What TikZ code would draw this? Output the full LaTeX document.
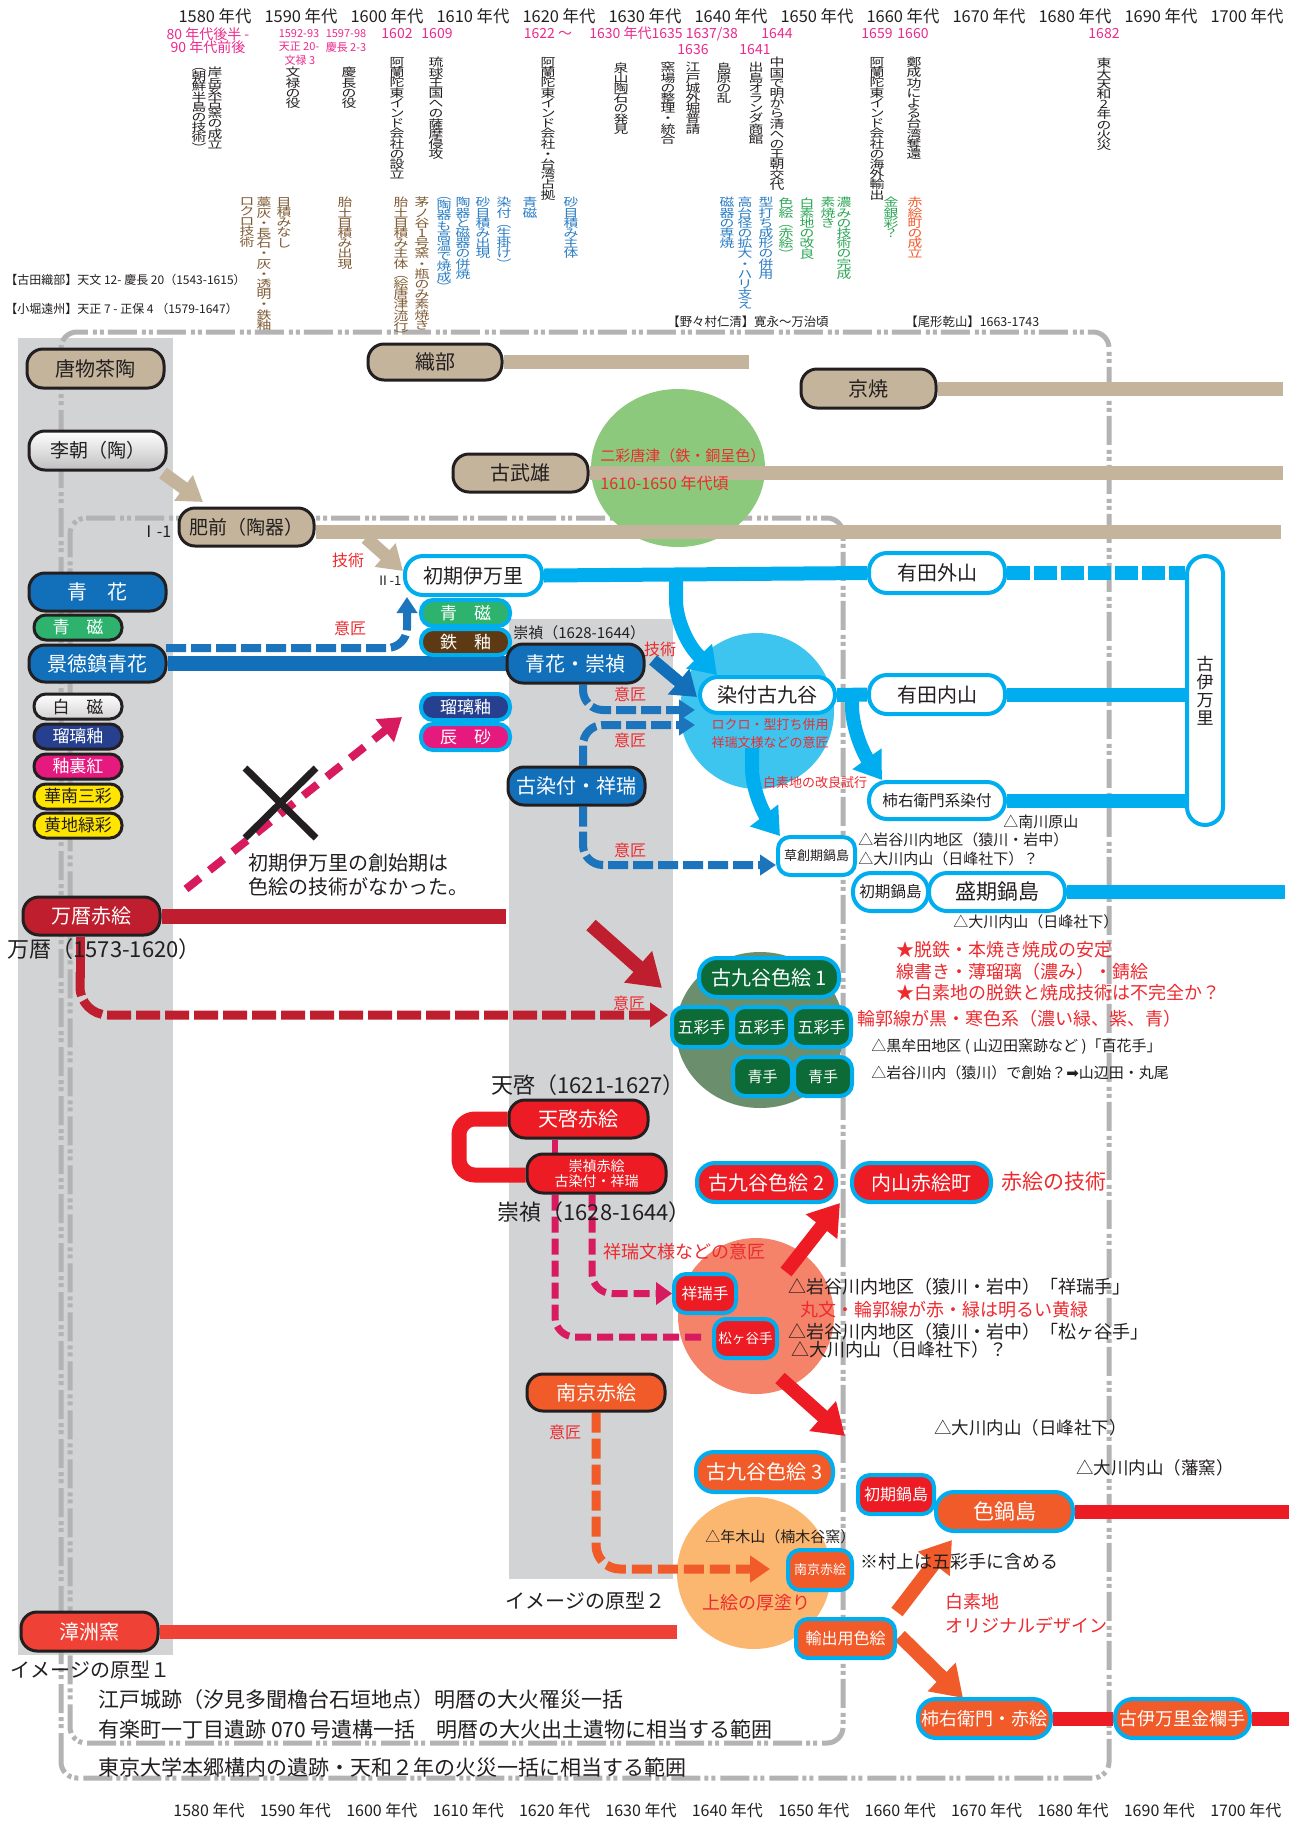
\documentclass[tikz,border=0pt]{standalone}
\usepackage{fontspec}
\usepackage{graphicx}
\setmainfont{Noto Sans CJK JP}
\newfontfamily\dv{DejaVu Sans}
\usetikzlibrary{arrows.meta}
\pgfdeclarelayer{back}
\pgfdeclarelayer{mid}
\pgfsetlayers{back,mid,main}
\definecolor{ink}{HTML}{231F20}
\definecolor{beige}{HTML}{C4B49B}
\definecolor{band}{HTML}{D1D3D4}
\definecolor{frame}{HTML}{B3B3B3}
\definecolor{cyanL}{HTML}{00AEEF}
\definecolor{blueN}{HTML}{1270BA}
\definecolor{blueD}{HTML}{1C75BC}
\definecolor{navy}{HTML}{26408F}
\definecolor{mag}{HTML}{E6197E}
\definecolor{dred}{HTML}{BE1E2D}
\definecolor{redN}{HTML}{ED1C24}
\definecolor{orng}{HTML}{F15A29}
\definecolor{dgreen}{HTML}{0D6B37}
\definecolor{gnode}{HTML}{2DB36D}
\definecolor{brownN}{HTML}{5E3A14}
\definecolor{yel}{HTML}{FFE500}
\definecolor{ltgreen}{HTML}{8DC97C}
\definecolor{ltblue}{HTML}{3DC5F0}
\definecolor{ellgreen}{HTML}{6B8F6C}
\definecolor{salmon}{HTML}{F4836A}
\definecolor{ltorange}{HTML}{FBB76F}
\definecolor{txred}{HTML}{EE2A2F}
\definecolor{pinky}{HTML}{EC2A8C}
\definecolor{txbrown}{HTML}{7F5B34}
\definecolor{txblue}{HTML}{2A7DC4}
\definecolor{txgreen}{HTML}{2AA654}
\definecolor{pinkD}{HTML}{D81B5F}
\definecolor{zhang}{HTML}{EF4136}
\newcommand\fz[1]{\fontsize{#1}{#1}\selectfont}
\def\vtend{\relax}
\def\vtloop#1{\ifx#1\vtend\else\hbox to 1.2em{\hss#1\hss}\expandafter\vtloop\fi}
\def\vtloopS#1{\ifx#1\vtend\else\hbox to 1.5em{\hss\scalebox{1.3}[1]{#1}\hss}\expandafter\vtloopS\fi}
\newcommand\vtx[2]{\vbox{\baselineskip=#1\lineskiplimit=-100pt\lineskip=0pt\vtloop#2\vtend}}
\newcommand\vtxS[2]{\vbox{\baselineskip=#1\lineskiplimit=-100pt\lineskip=0pt\vtloopS#2\vtend}}
\newcounter{tn}
\newcommand\tx[6][west]{\stepcounter{tn}\edef\tnm{t\arabic{tn}}\node[anchor=#1,inner sep=0pt,text=#4,font=\fz{#5}] (\tnm) at (#2,#3) {#6};}
\newcommand\vt[4]{\stepcounter{tn}\edef\tnm{t\arabic{tn}}\node[anchor=north,inner sep=0pt,text=#3,font=\fz{5.7}] (\tnm) at (#1,#2) {\vtxS{5.1pt}{#4}};}
\newcommand\bx[7]{\node[#6,minimum width={(#4-(#2))*0.5pt},minimum height={(#5-(#3))*0.5pt}] (#1) at ({((#2)+(#4))/2},{((#3)+(#5))/2}) {#7};}
\tikzset{
 nb/.style={inner sep=0pt, align=center},
 bn/.style={nb, fill=beige, draw=ink, line width=1.5pt, rounded corners=8pt, text=ink, font=\fz{10}},
 silv/.style={nb, draw=ink, line width=1.5pt, rounded corners=8pt, top color=white, bottom color=gray!50, text=ink, font=\fz{9.5}},
 dk/.style={nb, draw=ink, line width=1.5pt, rounded corners=8pt, text=white, font=\fz{10}},
 dks/.style={nb, draw=ink, line width=1.5pt, rounded corners=6pt, text=white, font=\fz{8.5}},
 cy/.style={nb, draw=cyanL, line width=2pt, rounded corners=9pt, font=\fz{10}},
 cys/.style={nb, draw=cyanL, line width=2pt, rounded corners=6pt, font=\fz{8.5}},
 frm/.style={draw=frame, line width=2.5pt, dash pattern=on 14.5pt off 2.5pt on 2pt off 1.5pt on 2pt off 2pt, rounded corners=8pt},
 barw/.style={line width=7pt},
 bdash/.style={draw=blueD, line width=4pt, dash pattern=on 10pt off 2.5pt, rounded corners=10pt, -{Triangle[width=10pt,length=8pt]}},
 blk/.style={line width=7pt, -{Triangle[width=19pt,length=15pt]}},
}
\begin{document}
\begin{tikzpicture}[x=0.5pt,y=-0.5pt]
\useasboundingbox (0,0) rectangle (1303,1821);
\begin{pgfonlayer}{back}
\fill[white] (0,0) rectangle (1303,1821);
\fill[band] (18,338) rectangle (173,1655);
\fill[band] (509,619) rectangle (673,1579);
\draw[frm] (61,1778) -- (61,332) -- (1109,332) -- (1109,1778) -- cycle;
\draw[frm] (70,518) -- (843,518) -- (843,1743) -- (70,1743) -- cycle;
\end{pgfonlayer}

% ---------- header ----------
\foreach \k in {0,...,12}{
  \pgfmathtruncatemacro\yr{1580+10*\k}
  \node[inner sep=0pt,text=ink,font=\fz{8.2}] (top\k) at ({215+86*\k},16) {\yr\ 年代};
  \node[inner sep=0pt,text=ink,font=\fz{8}] (bot\k) at ({209+86.4*\k},1810) {\yr\ 年代};
}
\tx[center]{208}{34}{pinky}{7}{80 年代後半 -}
\tx[center]{208}{47}{pinky}{7}{90 年代前後}
\tx[center]{299}{34}{pinky}{5.5}{1592-93}
\tx[center]{299}{47}{pinky}{5.5}{天正 20-}
\tx[center]{300}{60}{pinky}{5.5}{文禄 3}
\tx[center]{346}{34}{pinky}{5.5}{1597-98}
\tx[center]{346}{47}{pinky}{5.5}{慶長 2-3}
\tx[center]{397}{34}{pinky}{7}{1602}
\tx[center]{437}{34}{pinky}{7}{1609}
\tx[center]{548}{34}{pinky}{7}{1622 ～}
\tx{589}{34}{pinky}{7}{1630 年代1635 1637/38}
\tx[center]{777}{34}{pinky}{7}{1644}
\tx[center]{693}{50}{pinky}{7}{1636}
\tx[center]{755}{50}{pinky}{7}{1641}
\tx[center]{877}{34}{pinky}{7}{1659}
\tx[center]{913}{34}{pinky}{7}{1660}
\tx[center]{1104}{34}{pinky}{7}{1682}

\vt{215}{67}{ink}{岸岳系古窯の成立}
\vt{199}{68}{ink}{︵朝鮮半島の技術︶}
\vt{293}{67}{ink}{文禄の役}
\vt{349}{67}{ink}{慶長の役}
\vt{397}{57}{ink}{阿蘭陀東インド会社の設立}
\vt{436}{57}{ink}{琉球王国への薩摩侵攻}
\vt{548}{57}{ink}{阿蘭陀東インド会社・台湾占拠}
\vt{621}{62}{ink}{泉山陶石の発見}
\vt{668}{62}{ink}{窯場の整理・統合}
\vt{693}{62}{ink}{江戸城外堀普請}
\vt{724}{62}{ink}{島原の乱}
\vt{756}{62}{ink}{出島オランダ商館}
\vt{777}{57}{ink}{中国で明から清への王朝交代}
\vt{877}{57}{ink}{阿蘭陀東インド会社の海外輸出}
\vt{914}{57}{ink}{鄭成功による台湾奪還}
\vt{1104}{58}{ink}{東大天和2年の火災}

\vt{247}{197}{txbrown}{ロクロ技術}
\vt{264}{197}{txbrown}{藁灰・長石・灰・透明・鉄釉}
\vt{284}{197}{txbrown}{目積みなし}
\vt{345}{197}{txbrown}{胎土目積み出現}
\vt{401}{197}{txbrown}{胎土目積み主体︵絵唐津流行︶}
\vt{422}{197}{txbrown}{茅ノ谷1号窯・瓶のみ素焼き}
\vt{444}{197}{txblue}{︵陶器も高温で焼成︶}
\vt{463}{197}{txblue}{陶器と磁器の併焼}
\vt{483}{197}{txblue}{砂目積み出現}
\vt{504}{197}{txblue}{染付︵生掛け︶}
\vt{530}{197}{txblue}{青磁}
\vt{571}{197}{txblue}{砂目積み主体}
\vt{727}{197}{txblue}{磁器の専焼}
\vt{745}{197}{txblue}{高台径の拡大・ハリ支え}
\vt{766}{197}{txblue}{型打ち成形の併用}
\vt{786}{197}{txgreen}{色絵︵赤絵︶}
\vt{807}{197}{txgreen}{白素地の改良}
\vt{828}{197}{txgreen}{素焼き}
\vt{844}{197}{txgreen}{濃みの技術の完成}
\vt{891}{197}{txgreen}{金銀彩？}
\vt{915}{197}{orng}{赤絵町の成立}

\tx{5}{280}{ink}{6}{【古田織部】天文 12- 慶長 20（1543-1615）}
\tx{5}{309}{ink}{6}{【小堀遠州】天正 7 - 正保 4 （1579-1647）}
\tx{667}{322}{ink}{6.2}{【野々村仁清】寛永～万治頃}
\tx{905}{322}{ink}{6.2}{【尾形乾山】1663-1743}

% ---------- nodes ----------
\bx{karamono}{27}{349}{164}{388}{bn}{唐物茶陶}
\bx{richo}{29}{431}{166}{470}{silv}{李朝（陶）}
\bx{oribe}{368}{344}{502}{380}{bn}{織部}
\bx{kyo}{801}{369}{936}{408}{bn}{京焼}
\bx{takeo}{453}{454}{588}{492}{bn}{古武雄}
\bx{hizen}{179}{508}{314}{546}{bn,font=\fz{9.5}}{肥前（陶器）}
\bx{seika}{29}{573}{166}{611}{dk,fill=blueN}{青　花}
\bx{seijiL}{34}{615}{122}{640}{dks,fill=gnode}{青　磁}
\bx{keitoku}{29}{645}{166}{682}{dk,fill=blueN}{景徳鎮青花}
\bx{hakuji}{34}{694}{122}{719}{dks,top color=white,bottom color=gray!35,text=ink}{白　磁}
\bx{ruriL}{34}{724}{122}{749}{dks,fill=navy}{瑠璃釉}
\bx{yuri}{34}{754}{122}{779}{dks,fill=mag}{釉裏紅}
\bx{kanan}{34}{784}{122}{809}{dks,fill=yel,text=ink}{華南三彩}
\bx{kiji}{34}{813}{122}{838}{dks,fill=yel,text=ink}{黄地緑彩}
\bx{banreki}{23}{897}{160}{935}{dk,fill=dred}{万暦赤絵}
\bx{shoshu}{21}{1612}{158}{1651}{dk,fill=zhang}{漳洲窯}

\bx{shoki}{405}{556}{542}{595}{cy,fill=white,text=ink}{初期伊万里}
\bx{seijiC}{421}{600}{510}{626}{cys,fill=gnode,text=white}{青　磁}
\bx{tetsu}{421}{629}{510}{655}{cys,fill=brownN,text=white}{鉄　釉}
\bx{sukei}{507}{644}{644}{683}{dk,fill=blueN}{青花・崇禎}
\bx{ruriC}{421}{694}{510}{720}{cys,fill=navy,text=white}{瑠璃釉}
\bx{shinsha}{421}{724}{510}{750}{cys,fill=mag,text=white}{辰　砂}
\bx{kosome}{508}{767}{645}{805}{dk,fill=blueN}{古染付・祥瑞}
\bx{sometsuke}{700}{677}{835}{713}{cy,fill=white,text=ink}{染付古九谷}
\bx{soso}{778}{837}{855}{875}{cys,fill=white,text=ink,font=\fz{6.5}}{草創期鍋島}
\bx{sotoyama}{869}{553}{1005}{593}{cy,fill=white,text=ink}{有田外山}
\bx{uchiyama}{869}{675}{1005}{714}{cy,fill=white,text=ink}{有田内山}
\bx{kakiS}{869}{782}{1005}{819}{cy,fill=white,text=ink,font=\fz{7.8}}{柿右衛門系染付}
\bx{koimari}{1187}{556}{1223}{825}{cy,fill=white,text=ink,font=\fz{8.5}}{\vtx{9pt}{古伊万里}}
\bx{shokiN}{853}{873}{928}{911}{cy,fill=white,text=ink,font=\fz{7.8}}{初期鍋島}
\bx{seiki}{929}{873}{1065}{911}{cy,fill=white,text=ink,font=\fz{10.5}}{盛期鍋島}

\bx{iro1}{699}{958}{839}{997}{cy,fill=dgreen,text=white}{古九谷色絵 1}
\bx{gosai1}{672}{1007}{731}{1047}{cys,fill=dgreen,text=white,font=\fz{8}}{五彩手}
\bx{gosai2}{733}{1007}{790}{1047}{cys,fill=dgreen,text=white,font=\fz{8}}{五彩手}
\bx{gosai3}{792}{1007}{851}{1047}{cys,fill=dgreen,text=white,font=\fz{8}}{五彩手}
\bx{ao1}{733}{1057}{792}{1096}{cys,fill=dgreen,text=white,font=\fz{7.5}}{青手}
\bx{ao2}{794}{1057}{852}{1096}{cys,fill=dgreen,text=white,font=\fz{7.5}}{青手}

\bx{tenkei}{509}{1100}{648}{1138}{dk,fill=redN}{天啓赤絵}
\bx{sukeiaka}{527}{1154}{666}{1193}{dk,fill=redN,font={\fontsize{7}{7.6}\selectfont}}{崇禎赤絵\\古染付・祥瑞}
\bx{iro2}{697}{1163}{836}{1202}{cy,fill=redN,text=white}{古九谷色絵 2}
\bx{akaemachi}{852}{1163}{991}{1202}{cy,fill=redN,text=white}{内山赤絵町}
\bx{shonzui}{674}{1274}{736}{1313}{cys,fill=redN,text=white,font=\fz{7.8}}{祥瑞手}
\bx{matsu}{714}{1319}{777}{1358}{cys,fill=redN,text=white,font=\fz{6.8}}{松ヶ谷手}
\bx{nankin}{527}{1374}{665}{1411}{dk,fill=orng}{南京赤絵}
\bx{iro3}{696}{1452}{833}{1492}{cy,fill=orng,text=white}{古九谷色絵 3}
\bx{nankinS}{788}{1550}{852}{1590}{cys,fill=orng,text=white,font=\fz{6.5}}{南京赤絵}
\bx{yushutsu}{796}{1619}{895}{1658}{cys,fill=orng,text=white,font=\fz{8}}{輸出用色絵}
\bx{shokiR}{858}{1475}{934}{1514}{cys,fill=redN,text=white,font=\fz{8}}{初期鍋島}
\bx{ironabe}{936}{1492}{1073}{1531}{cy,fill=orng,text=white,font=\fz{10.5}}{色鍋島}
\bx{kakiA}{918}{1699}{1051}{1738}{cy,fill=orng,text=white,font=\fz{9}}{柿右衛門・赤絵}
\bx{kinran}{1115}{1699}{1250}{1738}{cy,fill=orng,text=white,font=\fz{9}}{古伊万里金襴手}

% ---------- texts ----------
\tx{600}{456}{txred}{7.5}{二彩唐津（鉄・銅呈色）}
\tx{600}{483}{txred}{8}{1610-1650 年代頃}
\tx[center]{348}{560}{txred}{8}{技術}
\tx[center]{156}{532}{ink}{8}{Ⅰ-1}
\tx[center]{389}{581}{ink}{6.5}{Ⅱ-1}
\tx[center]{350}{628}{txred}{8}{意匠}
\tx{513}{633}{ink}{7.5}{崇禎（1628-1644）}
\tx[center]{660}{649}{txred}{8}{技術}
\tx[center]{630}{694}{txred}{8}{意匠}
\tx[center]{630}{740}{txred}{8}{意匠}
\tx[center]{630}{850}{txred}{8}{意匠}
\tx[center]{770}{725}{txred}{6.5}{ロクロ・型打ち併用}
\tx[center]{770}{743}{txred}{6.5}{祥瑞文様などの意匠}
\tx[center]{815}{783}{txred}{6.5}{白素地の改良試行}
\tx{1003}{822}{ink}{7.5}{△南川原山}
\tx{858}{840}{ink}{7.5}{△岩谷川内地区（猿川・岩中）}
\tx{858}{859}{ink}{7.5}{△大川内山（日峰社下）？}
\tx{953}{922}{ink}{7.5}{△大川内山（日峰社下）}
\tx{248}{863}{ink}{10}{初期伊万里の創始期は}
\tx{248}{887}{ink}{10}{色絵の技術がなかった。}
\tx{7}{949}{ink}{11}{万暦（1573-1620）}
\tx[center]{629}{1003}{txred}{8}{意匠}
\tx{896}{950}{txred}{9}{★脱鉄・本焼き焼成の安定}
\tx{896}{972}{txred}{9}{線書き・薄瑠璃（濃み）・錆絵}
\tx{896}{993}{txred}{9}{★白素地の脱鉄と焼成技術は不完全か？}
\tx{857}{1019}{txred}{9}{輪郭線が黒・寒色系（濃い緑、紫、青）}
\tx{871}{1047}{ink}{7.5}{△黒牟田地区 ( 山辺田窯跡など )「百花手」}
\tx{871}{1073}{ink}{7.5}{△岩谷川内（猿川）で創始？{\dv ➡}山辺田・丸尾}
\tx{491}{1085}{ink}{11}{天啓（1621-1627）}
\tx{497}{1212}{ink}{11}{崇禎（1628-1644）}
\tx{603}{1252}{txred}{9}{祥瑞文様などの意匠}
\tx{1001}{1182}{txred}{10.5}{赤絵の技術}
\tx{788}{1287}{ink}{9}{△岩谷川内地区（猿川・岩中）「祥瑞手」}
\tx{800}{1310}{txred}{9}{丸文・輪郭線が赤・緑は明るい黄緑}
\tx{788}{1332}{ink}{9}{△岩谷川内地区（猿川・岩中）「松ヶ谷手」}
\tx{791}{1350}{ink}{9}{△大川内山（日峰社下）？}
\tx[center]{565}{1432}{txred}{8}{意匠}
\tx{934}{1428}{ink}{8.75}{△大川内山（日峰社下）}
\tx{1076}{1468}{ink}{8.75}{△大川内山（藩窯）}
\tx{705}{1537}{ink}{7.5}{△年木山（楠木谷窯）}
\tx{860}{1562}{ink}{9}{※村上は五彩手に含める}
\tx[center]{756}{1603}{txred}{9}{上絵の厚塗り}
\tx{505}{1601}{ink}{10}{イメージの原型２}
\tx{945}{1602}{txred}{9}{白素地}
\tx{945}{1625}{txred}{9}{オリジナルデザイン}
\tx{10}{1670}{ink}{10}{イメージの原型１}
\tx{98}{1699}{ink}{10.5}{江戸城跡（汐見多聞櫓台石垣地点）明暦の大火罹災一括}
\tx{98}{1730}{ink}{10.5}{有楽町一丁目遺跡 070 号遺構一括　明暦の大火出土遺物に相当する範囲}
\tx{98}{1767}{ink}{10.5}{東京大学本郷構内の遺跡・天和２年の火災一括に相当する範囲}

% ---------- mid layer: blobs, bars, arrows ----------
\begin{pgfonlayer}{mid}
\fill[ltgreen] (678,468) ellipse [x radius=43.5pt, y radius=39.5pt];
\fill[ltblue] (757,711) ellipse [x radius=38.5pt, y radius=39pt];
\fill[ellgreen] (760,1030) ellipse [x radius=42pt, y radius=39pt];
\fill[salmon] (756,1316) ellipse [x radius=39pt, y radius=39pt];
\fill[ltorange] (754,1573) ellipse [x radius=38.5pt, y radius=38pt];

\draw[beige, barw] (oribe.east) -- ++(245,0);
\draw[beige, barw] (kyo.east) -- ++(345,0);
\draw[beige, barw] (takeo.east) -- ++(693,0);
\draw[beige, barw] (hizen.east |- 0,532) -- (1281,532);
\draw[cyanL, barw] (shoki.east) -- (sotoyama.west);
\draw[cyanL, barw, dash pattern=on 11.5pt off 2pt] (sotoyama.east) -- (koimari.west |- sotoyama.east);
\draw[blueN, line width=7.5pt] (keitoku.east) -- (sukei.west);
\draw[cyanL, barw] (sometsuke.east) -- (uchiyama.west);
\draw[cyanL, barw] (uchiyama.east) -- (koimari.west |- uchiyama.east);
\draw[cyanL, barw] (kakiS.east) -- (koimari.west |- kakiS.east);
\draw[cyanL, barw] (seiki.east) -- ++(218,0);
\draw[dred, line width=7.5pt] (banreki.east) -- ++(344,0);
\draw[redN, barw] (ironabe.east) -- ++(214,0);
\draw[zhang, barw] (shoshu.east) -- ++(517,0);
\draw[redN, barw] (kakiA.east) -- (kinran.west);
\draw[redN, barw] (kinran.east) -- ++(37,0);

% beige arrows
\draw[beige, line width=6.5pt, -{Triangle[width=15pt,length=12pt]}] (163,473) -- (203,502);
\draw[beige, line width=6.5pt, -{Triangle[width=15pt,length=12pt]}] (366,538) -- (403,571);
% blue
\draw[bdash] (166,648) -| (407,597);
\draw[bdash] (sukei.south -| 583,0) |- (695,710);
\draw[bdash] (kosome.north -| 583,0) |- (695,725);
\draw[bdash] (kosome.south -| 583,0) |- (soso.west |- 0,865);
\draw[blueN, line width=6pt, -{Triangle[width=16pt,length=12pt]}] (653,660) -- (697,697);
% cyan arrows
\draw[cyanL, line width=7pt, rounded corners=16pt, -{Triangle[width=17pt,length=13pt]}] (676,575) -- (676,632) -- (717,675);
\draw[cyanL, line width=7pt, rounded corners=16pt, -{Triangle[width=17pt,length=13pt]}] (752,748) -- (752,800) -- (780,836);
\draw[cyanL, line width=7pt, rounded corners=16pt, -{Triangle[width=17pt,length=13pt]}] (852,698) -- (852,738) -- (882,780);
% pink dashed and cross
\draw[pinkD, line width=4pt, dash pattern=on 9pt off 6pt, -{Triangle[width=14pt,length=11pt]}] (186,889) -- (402,717);
\draw[ink, line width=3.5pt] (245,768) -- (316,838) (316,768) -- (245,838);
% wanli red
\draw[dred, line width=4.5pt] (banreki.south -| 80,0) -- (80,978);
\draw[dred, line width=4.5pt, dash pattern=on 12pt off 2.5pt, rounded corners=14pt, -{Triangle[width=12pt,length=9pt]}] (80,972) |- (668,1015);
\draw[dred, line width=7pt, -{Triangle[width=20pt,length=16pt]}] (591,925) -- (662,988);
% tianqi
\draw[redN, line width=7.5pt, rounded corners=8pt] (tenkei.west |- 0,1119) -- (459,1119) -- (459,1175) -- (sukeiaka.west |- 0,1175);
\draw[pinkD, line width=3pt] (tenkei.south -| 555,0) -- (sukeiaka.north -| 555,0);
\draw[pinkD, line width=3.5pt, dash pattern=on 8pt off 3pt, rounded corners=10pt, -{Triangle[width=11pt,length=8pt]}] (sukeiaka.south -| 592,0) |- (shonzui.west);
\draw[pinkD, line width=3.5pt, dash pattern=on 8pt off 3pt, rounded corners=10pt] (sukeiaka.south -| 555,0) |- (703,1337);
\draw[redN, blk] (786,1272) -- (840,1203);
\draw[redN, blk] (780,1378) -- (845,1436);
% nanjing
\draw[orng, line width=4.5pt, dash pattern=on 10pt off 3pt, rounded corners=12pt, -{Triangle[width=13pt,length=10pt]}] (nankin.south -| 596,0) |- (770,1569);
\draw[orng, blk] (897,1612) -- (952,1540);
\draw[orng, blk] (900,1636) -- (963,1698);
\end{pgfonlayer}
\end{tikzpicture}
\end{document}
